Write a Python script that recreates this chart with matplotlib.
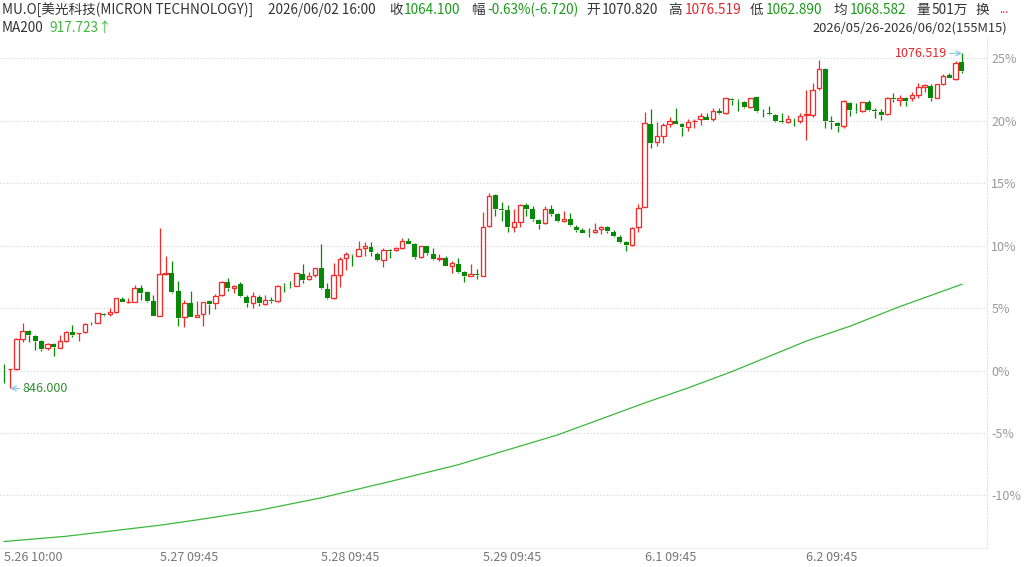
import numpy as np
import matplotlib.pyplot as plt

plt.rcParams['font.family'] = ['Noto Sans CJK SC', 'DejaVu Sans']

# 15-min candles MU.O, % change vs. reference price (right axis), 155 bars
open_pct = [
    0.15, 0.10, 0.12, 2.52, 3.16, 2.79, 2.36, 1.78, 2.12, 1.83, 2.39, 3.11, 2.98, 3.11, 3.74, 3.78, 4.50, 4.50, 4.71, 5.75, 5.45, 5.51, 6.58, 6.26, 5.56,
    4.39, 7.71, 7.79, 6.40, 4.31, 5.38, 4.31, 4.50, 5.54, 5.38, 6.02, 7.09, 6.58, 6.93, 5.86, 5.38, 5.91, 5.33, 5.65, 5.60, 6.80, 6.78, 6.80, 7.71, 7.30, 7.62,
    8.19, 6.53, 5.78, 7.65, 8.99, 9.28, 9.20, 9.79, 9.92, 9.33, 8.85, 9.65, 9.63, 9.79, 10.38, 10.10, 9.09, 9.98, 9.36, 8.96, 8.99, 8.40, 8.51, 7.87, 7.60, 7.72,
    7.60, 11.60, 14.06, 12.94, 12.86, 11.53, 11.92, 13.26, 12.91, 12.06, 11.79, 12.91, 12.54, 11.95, 12.11, 11.53, 11.26, 11.05, 11.07, 11.31, 11.47, 11.13, 10.72, 10.30, 10.03, 11.47,
    13.13, 19.75, 18.33, 18.79, 19.78, 20.00, 19.78, 19.54, 19.97, 20.13, 20.33, 20.13, 20.82, 20.61, 21.74, 21.63, 21.54, 21.08, 21.89, 20.74, 20.66, 20.47, 20.00, 19.89, 20.18, 20.02,
    20.47, 20.47, 22.61, 24.16, 19.97, 19.81, 19.62, 21.47, 20.79, 20.79, 21.54, 20.85, 20.74, 20.53, 21.81, 21.67, 21.81, 21.81, 22.08, 22.74, 22.82, 21.86, 22.93, 23.68, 23.33, 24.75,
]
high_pct = [
    0.52, 0.15, 2.58, 3.83, 3.24, 2.84, 2.44, 2.23, 2.18, 2.84, 3.16, 3.65, 3.03, 3.78, 3.92, 4.63, 4.63, 4.98, 5.83, 5.92, 5.78, 6.85, 6.85, 6.39, 6.05,
    11.39, 9.20, 8.77, 7.17, 5.65, 6.40, 5.57, 5.51, 5.65, 6.13, 7.20, 7.44, 6.86, 7.12, 6.05, 6.32, 6.05, 6.02, 5.86, 6.85, 6.98, 7.20, 7.82, 8.53, 7.92, 8.24,
    10.10, 6.98, 8.59, 9.12, 9.52, 9.33, 10.38, 10.27, 10.27, 9.52, 9.79, 9.73, 9.89, 10.59, 10.59, 10.19, 10.01, 10.01, 9.79, 9.36, 9.20, 8.77, 9.04, 7.97, 8.51, 8.13,
    12.73, 14.20, 14.14, 13.50, 13.26, 12.91, 13.32, 13.45, 13.18, 12.14, 13.18, 13.24, 12.59, 12.80, 12.59, 11.66, 11.39, 11.39, 11.79, 11.58, 11.58, 11.26, 10.86, 10.38, 11.47, 13.32,
    20.74, 20.95, 19.94, 19.81, 20.35, 21.00, 19.86, 20.13, 20.13, 20.61, 20.61, 21.00, 21.00, 21.86, 21.84, 21.74, 21.62, 21.86, 21.94, 20.94, 21.20, 20.53, 20.61, 20.51, 20.23, 20.60,
    22.48, 23.00, 24.88, 24.21, 20.42, 19.94, 21.68, 21.54, 21.41, 21.54, 21.70, 21.02, 20.96, 21.89, 22.26, 22.08, 21.94, 22.29, 23.00, 22.93, 22.93, 22.98, 23.73, 23.81, 24.80, 25.41,
]
low_pct = [
    -1.03, -1.44, 0.08, 2.31, 2.31, 1.64, 1.59, 1.64, 1.16, 1.78, 2.31, 2.71, 2.39, 2.98, 3.65, 3.78, 4.39, 4.37, 4.63, 5.46, 5.43, 5.48, 5.65, 5.51, 4.33,
    4.35, 7.66, 6.24, 3.57, 3.51, 4.26, 4.28, 3.57, 4.53, 4.90, 5.97, 6.40, 6.18, 5.86, 5.06, 5.03, 5.17, 5.25, 5.38, 5.49, 6.32, 6.58, 6.77, 6.99, 7.25, 7.46,
    6.52, 5.73, 5.73, 6.72, 8.05, 8.37, 9.17, 9.20, 9.20, 8.77, 8.32, 9.04, 9.57, 9.73, 10.10, 8.96, 9.04, 9.25, 8.88, 8.77, 8.35, 7.79, 7.82, 7.12, 7.55, 7.33,
    7.57, 11.52, 12.38, 12.00, 11.13, 11.13, 11.47, 12.38, 12.00, 11.37, 11.74, 12.38, 11.92, 11.90, 11.58, 11.13, 10.99, 10.72, 10.99, 10.91, 10.99, 10.67, 10.19, 9.60, 9.98, 11.13,
    13.07, 17.80, 18.01, 18.25, 19.48, 19.75, 18.80, 19.22, 19.46, 19.70, 20.05, 20.02, 20.55, 20.55, 21.30, 20.82, 21.00, 21.05, 20.72, 20.30, 20.47, 19.94, 19.86, 19.81, 19.62, 19.86,
    18.47, 20.34, 22.48, 19.46, 19.35, 19.09, 19.46, 20.42, 20.61, 20.74, 20.79, 20.20, 20.07, 20.47, 21.54, 21.20, 21.22, 21.60, 21.86, 22.34, 21.60, 21.81, 22.88, 23.41, 23.28, 23.82,
]
close_pct = [
    0.10, 0.12, 2.50, 3.16, 2.82, 2.36, 1.72, 2.12, 1.85, 2.36, 3.11, 2.84, 3.00, 3.70, 3.70, 4.58, 4.44, 4.66, 5.78, 5.51, 5.50, 6.58, 6.23, 5.56, 4.38,
    7.71, 7.84, 6.32, 4.23, 5.38, 4.31, 4.45, 5.46, 5.33, 5.97, 7.06, 6.58, 6.80, 5.94, 5.38, 5.94, 5.38, 5.65, 5.60, 6.80, 6.75, 6.75, 7.79, 7.25, 7.60, 8.19,
    6.58, 5.84, 7.65, 8.93, 9.31, 9.23, 9.71, 9.98, 9.47, 8.85, 9.65, 9.60, 9.84, 10.38, 10.16, 9.12, 9.98, 9.41, 8.96, 9.00, 8.40, 8.59, 7.87, 7.57, 7.70, 7.65,
    11.52, 13.98, 12.94, 12.90, 11.53, 11.87, 13.26, 12.94, 12.11, 11.74, 12.91, 12.54, 12.00, 12.11, 11.66, 11.29, 11.05, 11.02, 11.23, 11.47, 11.18, 10.78, 10.32, 10.08, 11.39, 13.05,
    19.81, 18.25, 18.79, 19.67, 20.00, 19.78, 19.54, 19.94, 20.00, 20.39, 20.07, 20.82, 20.61, 21.81, 21.70, 21.60, 21.08, 21.81, 20.82, 20.69, 20.53, 20.02, 19.94, 20.18, 20.13, 20.42,
    20.55, 22.48, 24.16, 20.00, 19.92, 19.62, 21.60, 20.87, 20.77, 21.49, 20.87, 20.80, 20.47, 21.81, 21.76, 21.86, 21.60, 22.08, 22.74, 22.85, 21.86, 22.93, 23.62, 23.46, 24.61, 23.96,
]

# MA200 read at some bars
ma_idx = [0, 10, 25, 31, 41, 51, 62, 73, 77, 89, 103, 110, 117, 129, 136, 144, 154]
ma_pct = [-13.7, -13.28, -12.4, -11.97, -11.2, -10.2, -8.9, -7.55, -6.95, -5.16, -2.6, -1.39, -0.09, 2.36, 3.55, 5.12, 6.91]

day_start = [0, 25, 51, 77, 103, 129]
day_labels = ['5.26 10:00', '5.27 09:45', '5.28 09:45', '5.29 09:45', '6.1 09:45', '6.2 09:45']
pct_ticks = [-10, -5, 0, 5, 10, 15, 20, 25]

low_price = 846.000
high_price = 1076.519

RED = '#f22b2b'
GREEN = '#058a05'
MA_GREEN = '#3cb83c'
DARK = '#333333'
TXT_GREEN = '#1a9a1a'
TXT_RED = '#e4262c'

o = np.array(open_pct)
h = np.array(high_pct)
l = np.array(low_pct)
c = np.array(close_pct)
idx = np.arange(len(o))
up = c >= o
top = np.maximum(o, c)
bot = np.minimum(o, c)
cols = np.where(up, RED, GREEN)

fig = plt.figure(figsize=(10.24, 5.67), dpi=100)
ax = fig.add_axes([0.0, 0.0335, 0.9639, 0.903])

ax.vlines(idx, top, h, colors=cols, lw=0.9, zorder=2)
ax.vlines(idx, l, bot, colors=cols, lw=0.9, zorder=2)
hgt = np.maximum(top - bot, 0.03)
ax.bar(idx[up], hgt[up], bottom=bot[up], width=0.72, facecolor='white',
       edgecolor=RED, linewidth=0.95, zorder=3)
ax.bar(idx[~up], hgt[~up], bottom=bot[~up], width=0.8, color=GREEN,
       linewidth=0, zorder=3)

ax.plot(ma_idx, ma_pct, color=MA_GREEN, lw=0.9, zorder=2)

ax.set_xlim(-0.643, 158.04)
ax.set_ylim(-14.22, 26.80)

ax.yaxis.tick_right()
ax.set_yticks(pct_ticks, labels=[f'{v}%' for v in pct_ticks])
ax.tick_params(axis='y', length=0, pad=3, labelcolor='#999999', labelsize=9)
ax.set_xticks(day_start, labels=day_labels)
for lab in ax.get_xticklabels():
    lab.set_ha('left')
ax.tick_params(axis='x', length=0, pad=2, labelcolor='#777777', labelsize=9)
ax.set_xticks(day_start[1:], minor=True)
ax.tick_params(axis='x', which='minor', length=0)

gstyle = dict(color='#d2d2d2', linestyle=(0, (1, 2)), linewidth=0.8)
ax.grid(axis='y', which='major', **gstyle)
ax.grid(axis='x', which='minor', **gstyle)
ax.set_axisbelow(True)

for s in ['top', 'left']:
    ax.spines[s].set_visible(False)
ax.spines['right'].set_color('#e2e2e2')
ax.spines['right'].set_linestyle((0, (1, 2)))
ax.spines['bottom'].set_color('#eeeeee')

# low / high markers
arrow = dict(arrowstyle='->', color='#86c4e0', lw=0.8, shrinkA=0, shrinkB=0)
ax.annotate(f'{low_price:.3f}', xy=(1, l[1]), xytext=(12, 0), textcoords='offset pixels',
            ha='left', va='center', color='#2f8f2f', fontsize=9, arrowprops=arrow)
ax.annotate(f'{high_price:.3f}', xy=(154, h[154]), xytext=(-15, 0), textcoords='offset pixels',
            ha='right', va='center', color=TXT_RED, fontsize=9, arrowprops=arrow)

# header
def put(x, y, s, color=DARK, size=9.8):
    fig.text(x / 1024, 1 - y / 567, s, color=color, fontsize=size, ha='left', va='center')

put(2, 10, 'MU.O[美光科技(MICRON TECHNOLOGY)]')
put(268, 10, '2026/06/02 16:00')
put(389, 10, '收')
put(404, 10, '1064.100', TXT_GREEN)
put(471, 10, '幅')
put(487, 10, '-0.63%(-6.720)', TXT_GREEN)
put(586, 10, '开')
put(602, 10, '1070.820')
put(668, 10, '高')
put(685, 10, '1076.519', TXT_RED)
put(750, 10, '低')
put(766, 10, '1062.890', TXT_GREEN)
put(833, 10, '均')
put(850, 10, '1068.582', TXT_GREEN)
put(916, 10, '量')
put(932, 10, '501万')
put(976, 10, '换')
put(999, 10, '...', TXT_RED, 8)
put(2, 28, 'MA200')
put(49, 28, '917.723↑', MA_GREEN)
fig.text(1007 / 1024, 1 - 28 / 567, '2026/05/26-2026/06/02(155M15)', color=DARK,
         fontsize=9.3, ha='right', va='center')

fig.savefig('out.png', dpi=100)
